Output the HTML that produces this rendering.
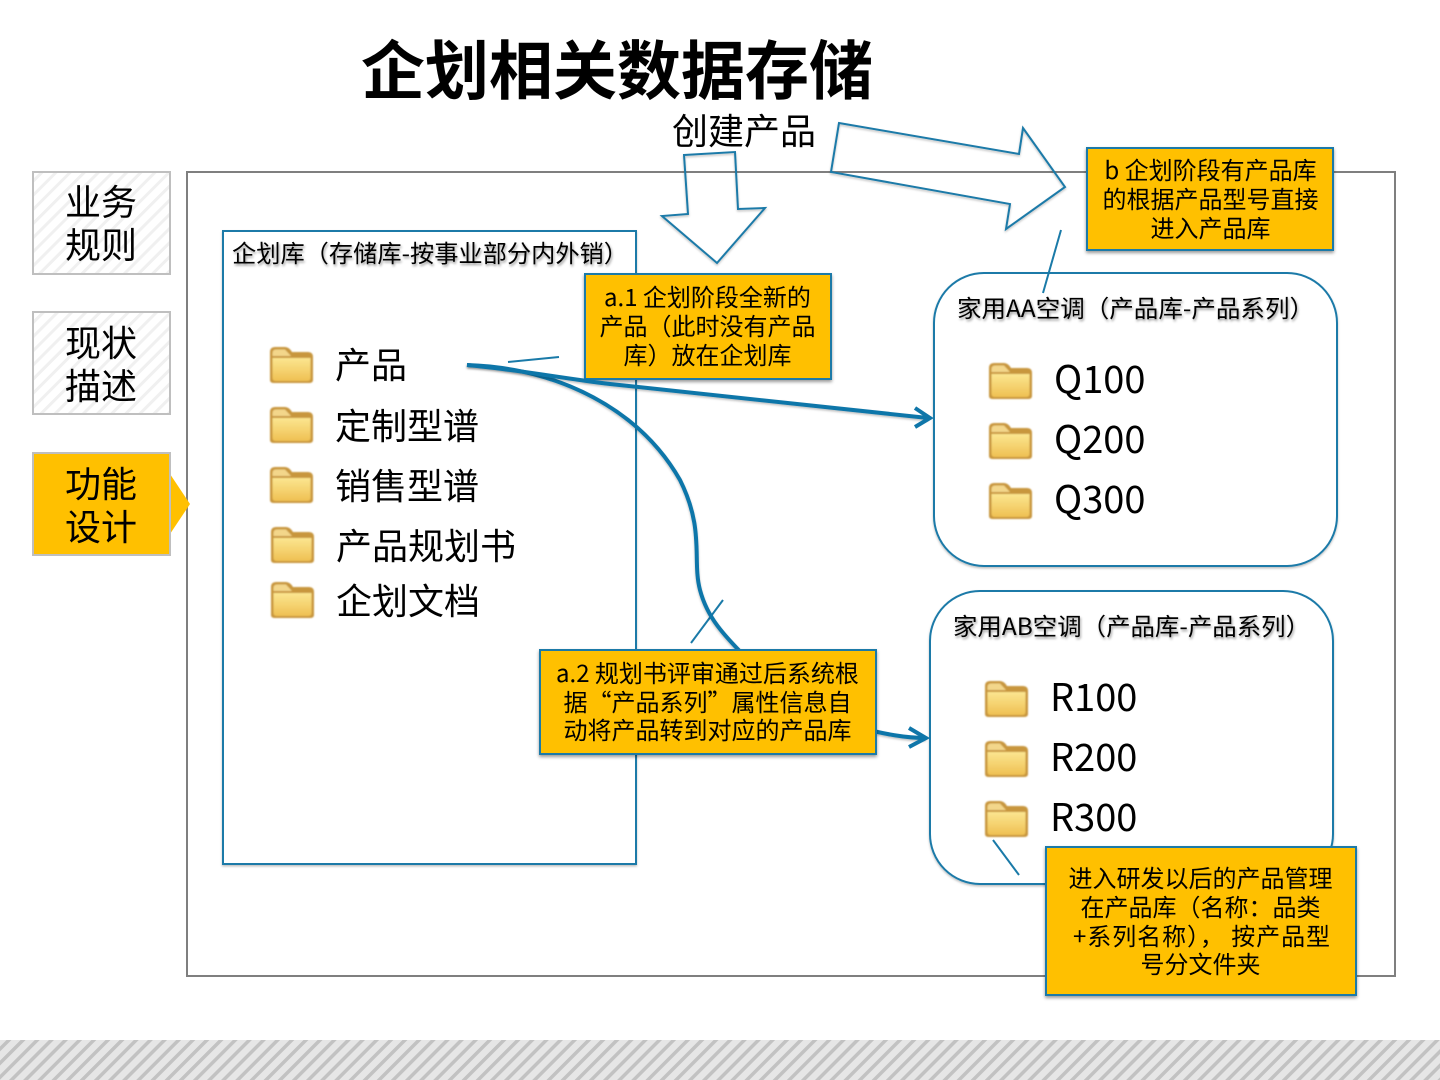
<!DOCTYPE html>
<html><head><meta charset="utf-8"><style>
html,body{margin:0;padding:0;background:#fff;width:1440px;height:1080px;overflow:hidden}
svg{display:block}
text{font-family:"Noto Sans CJK SC","Liberation Sans",sans-serif;fill:#000}
.c{text-anchor:middle;font-size:24px}
.l{font-size:36px}
.s{font-size:36px;text-anchor:middle}
</style></head><body>
<svg width="1440" height="1080" viewBox="0 0 1440 1080" xmlns="http://www.w3.org/2000/svg">
<defs>
<pattern id="st1" width="10" height="10" patternUnits="userSpaceOnUse" patternTransform="rotate(45)"><rect width="10" height="10" fill="#fff"/><rect width="3" height="10" fill="#f0f0f0"/></pattern>
<pattern id="st2" width="10" height="10" patternUnits="userSpaceOnUse" patternTransform="rotate(45)"><rect width="10" height="10" fill="#e6e6e6"/><rect width="3.5" height="10" fill="#c2c2c2"/></pattern>
<linearGradient id="fg" x1="0" y1="0" x2="0" y2="1"><stop offset="0" stop-color="#fbe690"/><stop offset="1" stop-color="#efc052"/></linearGradient>
<filter id="sh" x="-10%" y="-10%" width="120%" height="120%"><feDropShadow dx="0" dy="2" stdDeviation="1.5" flood-color="#000" flood-opacity=".4"/></filter>
<filter id="ts" x="-5%" y="-20%" width="110%" height="150%"><feDropShadow dx="1" dy="2" stdDeviation="1.2" flood-color="#000" flood-opacity=".4"/></filter>
<filter id="ls" x="-10%" y="-10%" width="120%" height="120%"><feDropShadow dx="0" dy="1.5" stdDeviation="1" flood-color="#000" flood-opacity=".25"/></filter>
<filter id="fb" x="-10%" y="-10%" width="120%" height="120%"><feGaussianBlur stdDeviation=".7"/></filter>
<g id="f" filter="url(#fb)">
<path d="M0 6 Q0 1 5 1 H15 Q19 1 22 6 H38 Q43 6 43 11 V34 Q43 37 39 37 H4 Q0 37 0 34 Z" fill="#c8963e"/>
<path d="M2.5 12 H40.5 V32 Q40.5 35 37 35 H6 Q2.5 35 2.5 32 Z" fill="url(#fg)"/>
<path d="M2.5 7 Q2.5 3.5 6 3.5 H15 L21 10 H2.5 Z" fill="#f3d68a"/>
</g>
</defs>

<rect x="0" y="1040" width="1440" height="40" fill="url(#st2)"/>

<!-- outer frame -->
<rect x="187" y="172" width="1208" height="804" fill="#fff" stroke="#7f7f7f" stroke-width="2"/>

<!-- side tabs -->
<rect x="33" y="172" width="137" height="102" fill="url(#st1)" stroke="#bfbfbf" stroke-width="2"/>
<rect x="33" y="312" width="137" height="102" fill="url(#st1)" stroke="#bfbfbf" stroke-width="2"/>
<path d="M170 474 L190 504 L170 534 Z" fill="#ffc000"/>
<rect x="33" y="453" width="137" height="102" fill="#ffc000" stroke="#bfbfbf" stroke-width="2"/>
<text class="s" x="101" y="215">业务</text>
<text class="s" x="101" y="258">规则</text>
<text class="s" x="101" y="356">现状</text>
<text class="s" x="101" y="399">描述</text>
<text class="s" x="101" y="497">功能</text>
<text class="s" x="101" y="540">设计</text>

<!-- title -->
<text x="361" y="94" font-size="64" font-weight="700" textLength="512" lengthAdjust="spacingAndGlyphs">企划相关数据存储</text>
<text x="744" y="144" font-size="36" text-anchor="middle">创建产品</text>

<!-- containers -->
<rect x="223" y="231" width="413" height="633" fill="#fff" stroke="#1a7aa8" stroke-width="2" filter="url(#ls)"/>
<rect x="934" y="273" width="403" height="293" rx="50" ry="50" fill="#fff" stroke="#1a7aa8" stroke-width="2" filter="url(#ls)"/>
<rect x="930" y="591" width="403" height="293" rx="50" ry="50" fill="#fff" stroke="#1a7aa8" stroke-width="2" filter="url(#ls)"/>

<g filter="url(#ts)">
<text x="232" y="262" font-size="24" textLength="396" lengthAdjust="spacingAndGlyphs">企划库（存储库-按事业部分内外销）</text>
<text x="957" y="317" font-size="24" textLength="357" lengthAdjust="spacingAndGlyphs">家用AA空调（产品库-产品系列）</text>
<text x="953" y="635" font-size="24" textLength="357" lengthAdjust="spacingAndGlyphs">家用AB空调（产品库-产品系列）</text>
</g>

<!-- folders -->
<use href="#f" x="270" y="346"/><use href="#f" x="270" y="406"/><use href="#f" x="270" y="466"/>
<use href="#f" x="271" y="526"/><use href="#f" x="271" y="581"/>
<use href="#f" x="989" y="362"/><use href="#f" x="989" y="422"/><use href="#f" x="989" y="482"/>
<use href="#f" x="985" y="680"/><use href="#f" x="985" y="740"/><use href="#f" x="985" y="800"/>

<text class="l" x="335" y="378">产品</text>
<text class="l" x="335" y="439">定制型谱</text>
<text class="l" x="335" y="499">销售型谱</text>
<text class="l" x="336" y="559">产品规划书</text>
<text class="l" x="336" y="614">企划文档</text>

<g>
<text x="1054" y="393" font-size="38">Q100</text>
<text x="1054" y="453" font-size="38">Q200</text>
<text x="1054" y="513" font-size="38">Q300</text>
<text x="1050" y="711" font-size="38">R100</text>
<text x="1050" y="771" font-size="38">R200</text>
<text x="1050" y="831" font-size="38">R300</text>
</g>

<!-- hollow arrows -->
<path d="M684 155 L735 152 L738 209 L765 208 L717 263 L662 216 L688 214 Z" fill="none" stroke="#1a7aa8" stroke-width="2" filter="url(#ls)"/>
<path d="M839 123 L1019 154 L1023 128 L1065 187 L1006 229 L1010 204 L831 172 Z" fill="none" stroke="#1a7aa8" stroke-width="2" filter="url(#ls)"/>

<!-- thin callout tails -->
<path d="M1061 230 L1043 293" fill="none" stroke="#1a7aa8" stroke-width="2"/>
<path d="M508 362 L559 357" fill="none" stroke="#1a7aa8" stroke-width="2"/>
<path d="M723 600 L691 643" fill="none" stroke="#1a7aa8" stroke-width="2"/>
<path d="M993 840 L1019 875" fill="none" stroke="#1a7aa8" stroke-width="2"/>

<!-- curved connector (under callouts) -->
<path d="M467 365 C560 368 640 410 680 480 C705 530 692 560 700 590 C708 620 724 635 758 670 L860 728 C885 734 905 738 926 738" fill="none" stroke="#0f76a9" stroke-width="4" filter="url(#ls)"/>
<path d="M909 728 L926 738 L909 747" fill="none" stroke="#0f76a9" stroke-width="4"/>

<!-- callouts -->
<g filter="url(#sh)" stroke="#1a7aa8" stroke-width="2" fill="#ffc000">
<rect x="1087" y="148" width="246" height="102"/>
<rect x="585" y="274" width="246" height="105"/>
<rect x="540" y="650" width="336" height="104"/>
<rect x="1046" y="847" width="310" height="148"/>
</g>

<!-- straight connector over -->
<path d="M467 365 C520 370 560 378 610 384 L928 418" fill="none" stroke="#0f76a9" stroke-width="4" filter="url(#ls)"/>
<path d="M915 408 L930 418 L915 427" fill="none" stroke="#0f76a9" stroke-width="4"/>

<g>
<text class="c" x="1210.5" y="179">b 企划阶段有产品库</text>
<text class="c" x="1210.5" y="208">的根据产品型号直接</text>
<text class="c" x="1210.5" y="237">进入产品库</text>

<text class="c" x="707.5" y="306">a.1 企划阶段全新的</text>
<text class="c" x="707.5" y="335">产品（此时没有产品</text>
<text class="c" x="707.5" y="364">库）放在企划库</text>

<text class="c" x="707.5" y="682">a.2 规划书评审通过后系统根</text>
<text class="c" x="707.5" y="711">据“产品系列”属性信息自</text>
<text class="c" x="707.5" y="739">动将产品转到对应的产品库</text>

<text class="c" x="1200.5" y="887">进入研发以后的产品管理</text>
<text class="c" x="1200.5" y="916">在产品库（名称：品类</text>
<text x="1073" y="945" font-size="24" textLength="257" lengthAdjust="spacing">+系列名称）， 按产品型</text>
<text class="c" x="1200.5" y="973">号分文件夹</text>
</g>
</svg>
</body></html>
